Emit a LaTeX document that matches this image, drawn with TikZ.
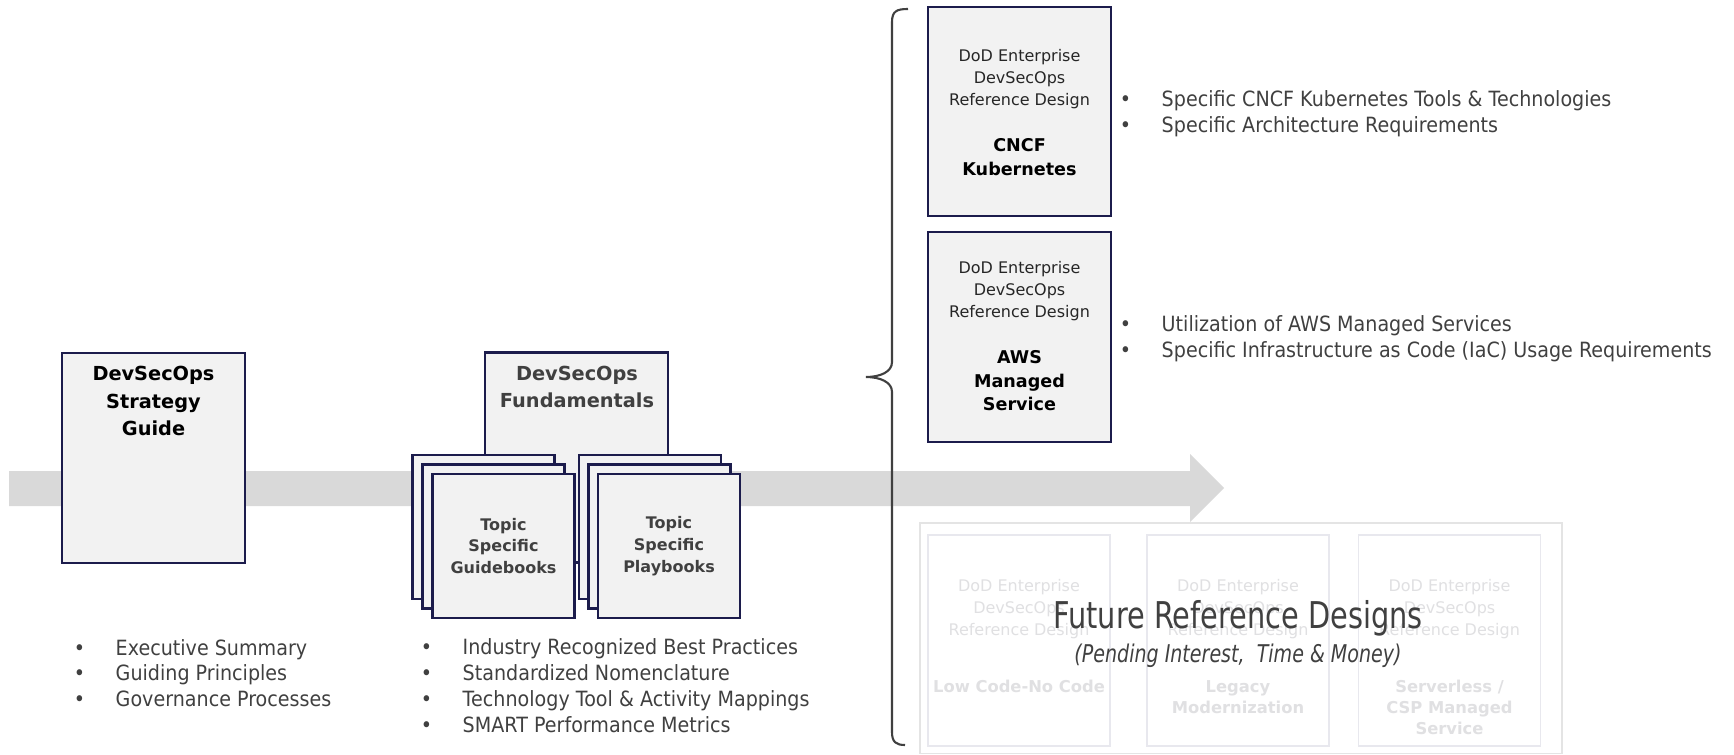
\documentclass[tikz,border=0pt]{standalone}
\usepackage{fontspec}
\usetikzlibrary{positioning}
\setmainfont{DejaVu Sans}
\newfontfamily\listfont[FakeStretch=0.91]{DejaVu Sans}
\newfontfamily\condfont[FakeStretch=0.78,ItalicFont={DejaVu Sans Oblique}]{DejaVu Sans}

\definecolor{boxfill}{HTML}{F2F2F2}
\definecolor{boxline}{HTML}{1C1C4C}
\definecolor{darktext}{HTML}{404040}
\definecolor{reftext}{HTML}{262626}
\definecolor{arrowgray}{HTML}{D9D9D9}
\definecolor{outerline}{HTML}{E4E4E4}
\definecolor{ghostline}{HTML}{E8E8EE}
\definecolor{ghosttext}{HTML}{E0E0E2}

\newcommand\bul{\makebox[23.9pt][l]{\textbullet}}

\begin{document}
\begin{tikzpicture}[x=0.02cm, y=-0.02cm,
	doc/.style={rectangle, draw=boxline, line width=1.2pt, fill=boxfill, inner sep=0pt},
	bigdoc/.style={doc, minimum width=3.66cm, minimum height=4.2cm},
	pagedoc/.style={doc, minimum width=2.84cm, minimum height=2.88cm, align=center,
		font=\fontsize{9.1}{12.5}\selectfont\bfseries, text=darktext},
	ghostdoc/.style={rectangle, draw=ghostline, line width=0.8pt, minimum width=3.64cm, minimum height=4.22cm},
	titletxt/.style={align=center, inner sep=0pt, font=\fontsize{11}{15.4}\selectfont\bfseries},
	reftxt/.style={align=center, inner sep=0pt, text=reftext, font=\fontsize{9.1}{12.3}\selectfont},
	nametxt/.style={align=center, inner sep=0pt, font=\fontsize{10}{13.4}\selectfont\bfseries},
	ghostref/.style={reftxt, text=ghosttext},
	ghostname/.style={align=center, inner sep=0pt, text=ghosttext, font=\fontsize{9.3}{12}\selectfont\bfseries},
	listtxt/.style={anchor=west, align=left, inner sep=0pt, text=darktext, font=\listfont\fontsize{11.95}{14.7}\selectfont}]

		\useasboundingbox (0,0) rectangle (1734,754);

		\fill[arrowgray] (9,471) -- (1190,471) -- (1190,454) -- (1224,488) -- (1190,522) -- (1190,506) -- (9,506) -- cycle;

		\node(strat)[bigdoc] at (153.5,458) {};
		\node(strat-title)[titletxt] at (153.5,401) {DevSecOps\\Strategy\\Guide};

		\node(fund)[bigdoc] at (576.5,457.5) {};
		\node(fund-title)[titletxt, text=darktext] at (577,387) {DevSecOps\\Fundamentals};

		\node(guide-1)[pagedoc] at (483.5,527) {};
		\node(guide-2)[pagedoc] at (493.5,536.5) {};
		\node(guide-3)[pagedoc] at (503.5,546) {Topic\\Specific\\Guidebooks};

		\node(play-1)[pagedoc] at (650,527) {};
		\node(play-2)[pagedoc] at (659.5,536.5) {};
		\node(play-3)[pagedoc] at (669,546) {Topic\\Specific\\Playbooks};

		\node(strat-list)[listtxt] at (73.4,673) {\bul Executive Summary\\\bul Guiding Principles\\\bul Governance Processes};
		\node(fund-list)[listtxt] at (420.4,685.5) {\bul Industry Recognized Best Practices\\\bul Standardized Nomenclature\\\bul Technology Tool \& Activity Mappings\\\bul SMART Performance Metrics};

		\draw[darktext, line width=1.2pt] (908,9) .. controls (897,9) and (892,11) .. (892,22) -- (892,362)
			.. controls (892,372) and (880,377) .. (866,377) .. controls (880,377) and (892,382) .. (892,392)
			-- (892,732) .. controls (892,742) and (896,745) .. (905,745);

		\node(cncf)[bigdoc, minimum height=4.18cm] at (1019.5,111.5) {};
		\node(cncf-ref)[reftxt] at (1019.5,79) {DoD Enterprise\\DevSecOps\\Reference Design};
		\node(cncf-name)[nametxt] at (1019.5,157) {CNCF\\Kubernetes};

		\node(aws)[bigdoc] at (1019.5,337) {};
		\node(aws-ref)[reftxt] at (1019.5,291) {DoD Enterprise\\DevSecOps\\Reference Design};
		\node(aws-name)[nametxt] at (1019.5,381) {AWS\\Managed\\Service};

		\node(cncf-list)[listtxt] at (1119.4,114) {\bul Specific CNCF Kubernetes Tools \& Technologies\\\bul Specific Architecture Requirements};
		\node(aws-list)[listtxt] at (1119.4,339) {\bul Utilization of AWS Managed Services\\\bul Specific Infrastructure as Code (IaC) Usage Requirements};

		\draw[outerline, fill=white, line width=0.8pt] (920,523) rectangle (1562,753.5);

		\node(lowcode)[ghostdoc] at (1019,640.5) {};
		\node(legacy)[ghostdoc] at (1238,640.5) {};
		\node(serverless)[ghostdoc] at (1449.5,640.5) {};
		\foreach \gx in {1019,1238,1449.5}
			\node[ghostref] at (\gx,609) {DoD Enterprise\\DevSecOps\\Reference Design};
		\node(lowcode-name)[ghostname] at (1019,686) {Low Code-No Code};
		\node(legacy-name)[ghostname] at (1238,697) {Legacy\\Modernization};
		\node(serverless-name)[ghostname] at (1449.5,707) {Serverless /\\CSP Managed\\Service};

		\node(future)[inner sep=0pt, text=darktext, font=\condfont\fontsize{21}{25}\selectfont] at (1238,618) {Future Reference Designs};
		\node(future-note)[inner sep=0pt, text=darktext, font=\condfont\itshape\fontsize{13.9}{16}\selectfont, below=4pt of future] {(Pending Interest,~ Time \& Money)};
	\end{tikzpicture}
\end{document}
